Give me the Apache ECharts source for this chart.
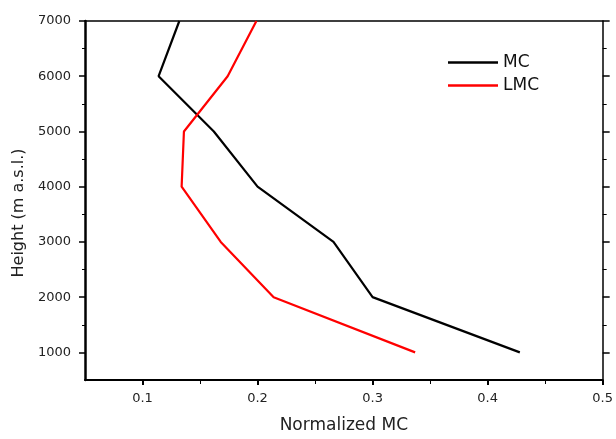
<!DOCTYPE html>
<html>
<head>
<meta charset="utf-8">
<script src="https://cdn.jsdelivr.net/npm/echarts@6/dist/echarts.min.js"></script>
<style>
html,body{margin:0;padding:0;background:#fff;}
#chart{width:616px;height:439px;}
</style>
</head>
<body>
<div id="chart"></div>
<script>
var heights = [1000, 2000, 3000, 4000, 5000, 6000, 7000];
var mcValues = [0.428, 0.300, 0.266, 0.200, 0.162, 0.114, 0.132];
var lmcValues = [0.337, 0.214, 0.168, 0.134, 0.136, 0.174, 0.199];
var xMajorTicks = [0.1, 0.2, 0.3, 0.4, 0.5];
var xMinorTicks = [0.15, 0.25, 0.35, 0.45];
var yMajorTicks = [1000, 2000, 3000, 4000, 5000, 6000, 7000];
var yMinorTicks = [1500, 2500, 3500, 4500, 5500, 6500];

var FONT = '"DejaVu Sans", "Liberation Sans", Arial, sans-serif';
function pairs(xs, ys) { return xs.map(function (x, i) { return [x, ys[i]]; }); }
function plain(v) { return String(v); }

var chart = echarts.init(document.getElementById('chart'), null, {renderer: 'canvas'});

var xBase = {type: 'value', min: 0.05, max: 0.5, splitLine: {show: false}};
var yBase = {type: 'value', min: 500, max: 7000, splitLine: {show: false}};

chart.setOption({
  animation: false,
  backgroundColor: '#ffffff',
  grid: {left: 85, right: 13, top: 21, bottom: 55, containLabel: false},
  legend: {
    orient: 'vertical', left: 448, top: 54, padding: 0,
    icon: 'rect', itemWidth: 50, itemHeight: 2.5, itemGap: 6,
    textStyle: {fontFamily: FONT, fontSize: 17, color: '#111', lineHeight: 17},
    data: ['MC', 'LMC']
  },
  xAxis: [
    Object.assign({}, xBase, {
      position: 'bottom',
      name: 'Normalized MC', nameLocation: 'middle', nameGap: 37,
      nameTextStyle: {fontFamily: FONT, fontSize: 17, color: '#222'},
      axisLine: {show: true, lineStyle: {color: '#000', width: 2}},
      axisTick: {show: true, customValues: xMajorTicks, length: 5, lineStyle: {color: '#000', width: 2}},
      axisLabel: {customValues: xMajorTicks, formatter: plain, fontFamily: FONT, fontSize: 13, color: '#222', margin: 12}
    }),
    Object.assign({}, xBase, {
      position: 'bottom',
      axisLine: {show: false},
      axisTick: {show: true, customValues: xMinorTicks, length: 4, lineStyle: {color: '#000', width: 1}},
      axisLabel: {show: false}
    }),
    Object.assign({}, xBase, {
      position: 'top',
      axisLine: {show: true, lineStyle: {color: '#000', width: 1.5}},
      axisTick: {show: false},
      axisLabel: {show: false}
    })
  ],
  yAxis: [
    Object.assign({}, yBase, {
      position: 'left',
      name: 'Height (m a.s.l.)', nameLocation: 'middle', nameGap: 57,
      nameTextStyle: {fontFamily: FONT, fontSize: 16, color: '#222', padding: [0, 25, 0, 0]},
      axisLine: {show: true, lineStyle: {color: '#000', width: 2.5}},
      axisTick: {show: true, customValues: yMajorTicks, length: 6, lineStyle: {color: '#000', width: 1.5}},
      axisLabel: {customValues: yMajorTicks, formatter: plain, fontFamily: FONT, fontSize: 13, color: '#222', margin: 14}
    }),
    Object.assign({}, yBase, {
      position: 'left',
      axisLine: {show: false},
      axisTick: {show: true, customValues: yMinorTicks, length: 3, lineStyle: {color: '#000', width: 1}},
      axisLabel: {show: false}
    }),
    Object.assign({}, yBase, {
      position: 'right',
      axisLine: {show: true, lineStyle: {color: '#000', width: 1.5}},
      axisTick: {show: true, customValues: yMajorTicks, length: 7, lineStyle: {color: '#000', width: 1.5}},
      axisLabel: {show: false}
    }),
    Object.assign({}, yBase, {
      position: 'right',
      axisLine: {show: false},
      axisTick: {show: true, customValues: yMinorTicks, length: 4, lineStyle: {color: '#000', width: 1}},
      axisLabel: {show: false}
    })
  ],
  series: [
    {
      name: 'MC', type: 'line', xAxisIndex: 0, yAxisIndex: 0,
      data: pairs(mcValues, heights), symbol: 'none', smooth: false,
      lineStyle: {color: '#000000', width: 2.2}, itemStyle: {color: '#000000'}
    },
    {
      name: 'LMC', type: 'line', xAxisIndex: 0, yAxisIndex: 0,
      data: pairs(lmcValues, heights), symbol: 'none', smooth: false,
      lineStyle: {color: '#ff0000', width: 2.2}, itemStyle: {color: '#ff0000'}
    }
  ]
});
</script>
</body>
</html>
